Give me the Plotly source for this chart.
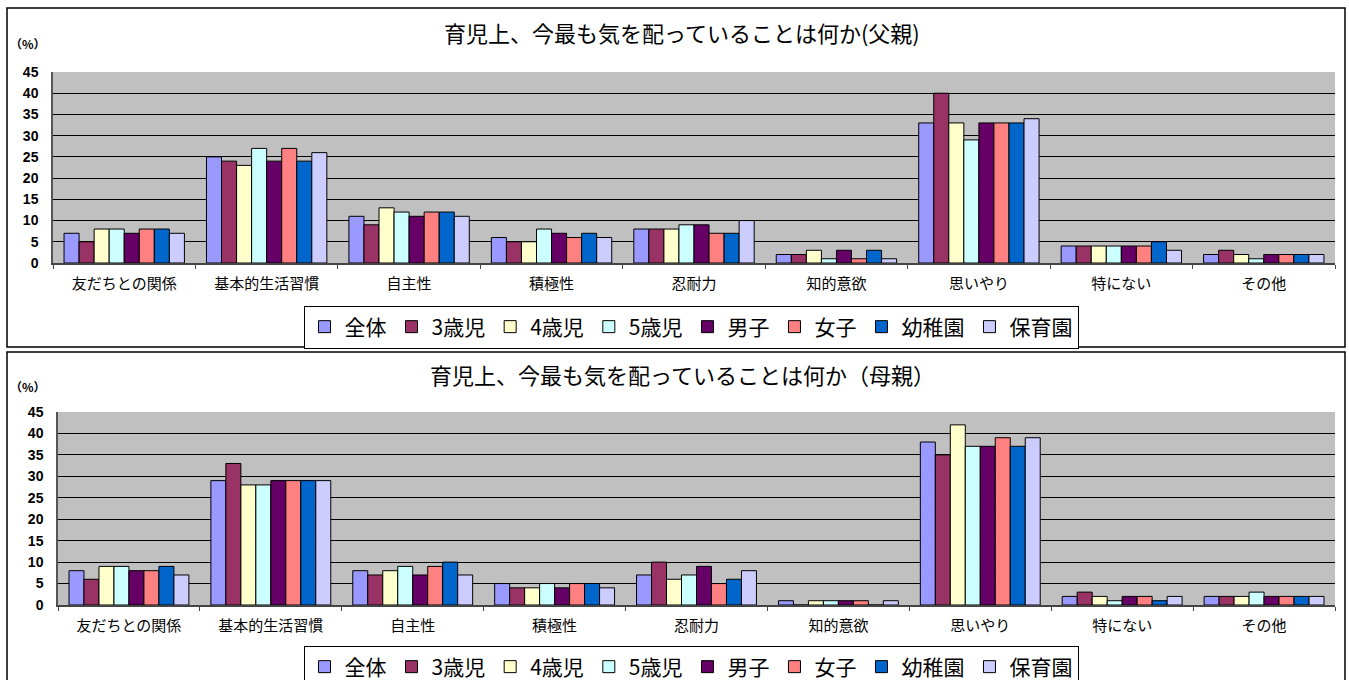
import plotly.graph_objects as go

categories = ["友だちとの関係", "基本的生活習慣", "自主性", "積極性", "忍耐力",
              "知的意欲", "思いやり", "特にない", "その他"]
series_names = ["全体", "3歳児", "4歳児", "5歳児", "男子", "女子", "幼稚園", "保育園"]
colors = ["#9999FF", "#993366", "#FFFFCC", "#CCFFFF", "#660066", "#FF8080", "#0066CC", "#CCCCFF"]

# Father (top chart), one list per series across categories
father = {
    "全体":   [7, 25, 11, 6, 8, 2, 33, 4, 2],
    "3歳児":  [5, 24, 9, 5, 8, 2, 40, 4, 3],
    "4歳児":  [8, 23, 13, 5, 8, 3, 33, 4, 2],
    "5歳児":  [8, 27, 12, 8, 9, 1, 29, 4, 1],
    "男子":   [7, 24, 11, 7, 9, 3, 33, 4, 2],
    "女子":   [8, 27, 12, 6, 7, 1, 33, 4, 2],
    "幼稚園": [8, 24, 12, 7, 7, 3, 33, 5, 2],
    "保育園": [7, 26, 11, 6, 10, 1, 34, 3, 2],
}
# Mother (bottom chart)
mother = {
    "全体":   [8, 29, 8, 5, 7, 1, 38, 2, 2],
    "3歳児":  [6, 33, 7, 4, 10, 0, 35, 3, 2],
    "4歳児":  [9, 28, 8, 4, 6, 1, 42, 2, 2],
    "5歳児":  [9, 28, 9, 5, 7, 1, 37, 1, 3],
    "男子":   [8, 29, 7, 4, 9, 1, 37, 2, 2],
    "女子":   [8, 29, 9, 5, 5, 1, 39, 2, 2],
    "幼稚園": [9, 29, 10, 5, 6, 0, 37, 1, 2],
    "保育園": [7, 29, 7, 4, 8, 1, 39, 2, 2],
}
title_father = "育児上、今最も気を配っていることは何か(父親)"
title_mother = "育児上、今最も気を配っていることは何か（母親）"
y_ticks = [0, 5, 10, 15, 20, 25, 30, 35, 40, 45]

W, H = 1349, 680
FONT = "Noto Sans CJK JP"

def px_x(v):
    return v / W

def px_y(v):
    return 1 - v / H

fig = go.Figure()
for name, col in zip(series_names, colors):
    fig.add_trace(go.Bar(x=categories, y=father[name], name=name, marker_color=col,
                         marker_line_color="black", marker_line_width=1,
                         xaxis="x", yaxis="y", legend="legend"))
for name, col in zip(series_names, colors):
    fig.add_trace(go.Bar(x=categories, y=mother[name], name=name, marker_color=col,
                         marker_line_color="black", marker_line_width=1,
                         xaxis="x2", yaxis="y2", legend="legend2"))

xcommon = dict(type="category", tickson="boundaries", ticks="outside", ticklen=4,
               tickcolor="#444", showline=True, linecolor="#444", linewidth=1.5,
               showgrid=False, ticklabelstandoff=6,
               tickfont=dict(family=FONT, size=15, color="black"))
ycommon = dict(range=[0, 45], tickvals=y_ticks, showgrid=True, gridcolor="black",
               gridwidth=1, showline=True, linecolor="#555", linewidth=1.5,
               ticks="", ticklabelstandoff=10,
               tickfont=dict(family="Liberation Sans", size=14, color="black", weight="bold"),
               zeroline=False, fixedrange=True)

legcommon = dict(orientation="h", xanchor="center", yanchor="middle",
                 bordercolor="black", borderwidth=1, bgcolor="white",
                 font=dict(family=FONT, size=21, color="black"),
                 itemwidth=30, tracegroupgap=0, traceorder="normal")

fig.update_layout(
    width=W, height=H,
    margin=dict(l=0, r=0, t=0, b=0, autoexpand=False),
    paper_bgcolor="white",
    plot_bgcolor="#C0C0C0",
    barmode="group", bargap=0.155, bargroupgap=0,
    xaxis=dict(domain=[px_x(53), px_x(1335)], anchor="y", **xcommon),
    yaxis=dict(domain=[px_y(263), px_y(72)], anchor="x", **ycommon),
    xaxis2=dict(domain=[px_x(58), px_x(1335)], anchor="y2", **xcommon),
    yaxis2=dict(domain=[px_y(605), px_y(412)], anchor="x2", **ycommon),
    legend=dict(x=px_x(691), y=px_y(327), **legcommon),
    legend2=dict(x=px_x(691), y=px_y(667), **legcommon),
    showlegend=True,
    shapes=[
        dict(type="rect", xref="paper", yref="paper", x0=px_x(7), x1=px_x(1345),
             y0=px_y(347), y1=px_y(8), line=dict(color="black", width=1.5), layer="below"),
        dict(type="rect", xref="paper", yref="paper", x0=px_x(7), x1=px_x(1345),
             y0=px_y(700), y1=px_y(352), line=dict(color="black", width=1.5), layer="below"),
    ],
    annotations=[
        dict(text=title_father, xref="paper", yref="paper", x=px_x(682), y=px_y(32),
             showarrow=False, xanchor="center", yanchor="middle",
             font=dict(family=FONT, size=22, color="black")),
        dict(text=title_mother, xref="paper", yref="paper", x=px_x(682), y=px_y(374),
             showarrow=False, xanchor="center", yanchor="middle",
             font=dict(family=FONT, size=22, color="black")),
        dict(text="（%）", xref="paper", yref="paper", x=px_x(8), y=px_y(44),
             showarrow=False, xanchor="left", yanchor="middle",
             font=dict(family=FONT, size=12, color="black", weight="bold")),
        dict(text="（%）", xref="paper", yref="paper", x=px_x(8), y=px_y(386),
             showarrow=False, xanchor="left", yanchor="middle",
             font=dict(family=FONT, size=12, color="black", weight="bold")),
    ],
)

fig.write_html("out.html")
